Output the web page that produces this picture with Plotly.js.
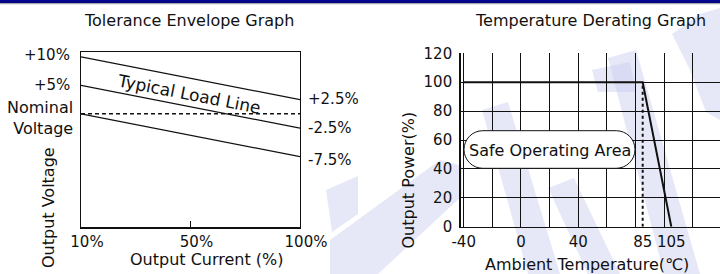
<!DOCTYPE html>
<html>
<head>
<meta charset="utf-8">
<script src="https://cdn.plot.ly/plotly-3.0.1.min.js"></script>
<style>html,body{margin:0;padding:0;background:#fff;}#chart{width:720px;height:274px;}</style>
</head>
<body>
<div id="chart"></div>
<script>
// ---- Data: Tolerance Envelope Graph ----
const currentCategories = ["10%", "50%", "100%"];
const loadEnds = ["10%", "100%"];
const upperLimit = [10, 2.5];      // % output voltage
const typicalLoad = [5, -2.5];
const lowerLimit = [0, -7.5];
const nominalLevel = [0, 0, 0];

// ---- Data: Temperature Derating Graph ----
const ambientTemp = [-40, 85, 105];
const outputPower = [100, 100, 0];
const kneeTemp = [85, 85];
const kneePower = [0, 100];
const tempTickVals = [-40, 0, 40, 85, 105];
const tempTickText = ["-40", "0", "40", "85", "105"];
const powerTicks = [0, 20, 40, 60, 80, 100, 120];

// ---- Layout helpers (pixel -> paper) ----
const W = 720, H = 274;
const px = x => x / W;
const py = y => 1 - y / H;
function poly(pts) {
  return 'M' + pts.map(p => px(p[0]).toFixed(5) + ',' + py(p[1]).toFixed(5)).join(' L') + ' Z';
}
function stadium(l, r, t, b) {
  const rad = (b - t) / 2, k = 0.5523 * rad, m = (t + b) / 2;
  const P = (x, y) => px(x).toFixed(5) + ',' + py(y).toFixed(5);
  return 'M' + P(l + rad, t) + ' L' + P(r - rad, t) +
    ' C' + P(r - rad + k, t) + ' ' + P(r, m - k) + ' ' + P(r, m) +
    ' C' + P(r, m + k) + ' ' + P(r - rad + k, b) + ' ' + P(r - rad, b) +
    ' L' + P(l + rad, b) +
    ' C' + P(l + rad - k, b) + ' ' + P(l, m + k) + ' ' + P(l, m) +
    ' C' + P(l, m - k) + ' ' + P(l + rad - k, t) + ' ' + P(l + rad, t) + ' Z';
}

const black = '#111';
const traces = [
  {x: loadEnds, y: upperLimit, xaxis: 'x', yaxis: 'y', mode: 'lines', line: {color: black, width: 1.2}, hoverinfo: 'skip'},
  {x: loadEnds, y: typicalLoad, xaxis: 'x', yaxis: 'y', mode: 'lines', line: {color: black, width: 1.2}, hoverinfo: 'skip'},
  {x: loadEnds, y: lowerLimit, xaxis: 'x', yaxis: 'y', mode: 'lines', line: {color: black, width: 1.2}, hoverinfo: 'skip'},
  {x: currentCategories, y: nominalLevel, xaxis: 'x', yaxis: 'y', mode: 'lines', line: {color: black, width: 1.5, dash: '4px,3px'}, hoverinfo: 'skip'},
  {x: ambientTemp, y: outputPower, xaxis: 'x2', yaxis: 'y2', mode: 'lines', line: {color: black, width: 2}, hoverinfo: 'skip'},
  {x: kneeTemp, y: kneePower, xaxis: 'x2', yaxis: 'y2', mode: 'lines', line: {color: black, width: 2, dash: 'dot'}, hoverinfo: 'skip'}
];

const wm = 'rgba(200,205,238,0.45)';
const watermark = [
  [[608,58],[636,50],[700,274],[664,274]],
  [[672,34],[700,14],[720,8],[720,120],[706,112],[690,70]],
  [[482,110],[508,102],[560,274],[528,274]],
  [[548,188],[574,178],[620,274],[588,274]],
  [[330,240],[440,160],[462,166],[462,196],[378,274],[330,274]],
  [[326,190],[358,176],[358,214],[332,232]],
  [[592,70],[630,62],[636,92],[598,92]]
].map(p => ({type: 'path', xref: 'paper', yref: 'paper', path: poly(p), fillcolor: wm, line: {width: 0}, layer: 'below'}));

const shapes = watermark.concat([
  {type: 'rect', xref: 'paper', yref: 'paper', x0: 0, x1: 1, y0: py(3), y1: 1, fillcolor: '#06068a', line: {width: 0}},
  {type: 'rect', xref: 'paper', yref: 'paper', x0: 0, x1: 1, y0: py(4.2), y1: py(3), fillcolor: '#a8a8a8', line: {width: 0}},
  {type: 'path', xref: 'paper', yref: 'paper', path: stadium(464, 635, 130.7, 168.3), fillcolor: '#fff', line: {color: black, width: 1}, layer: 'above'}
]);

function ann(text, x, y, opts) {
  return Object.assign({text: text, xref: 'paper', yref: 'paper', x: px(x), y: py(y), showarrow: false,
    xanchor: 'center', yanchor: 'middle', font: {size: 15, color: black}}, opts || {});
}

const annotations = [
  ann('Tolerance Envelope Graph', 189, 20, {font: {size: 16, color: black}}),
  ann('Temperature Derating Graph', 590, 20, {font: {size: 16, color: black}}),
  ann('+10%', 72, 55, {xanchor: 'right'}),
  ann('+5%', 72, 85, {xanchor: 'right'}),
  ann('Nominal<br>Voltage', 75, 118, {xanchor: 'right', align: 'right', font: {size: 16, color: black}}),
  ann('+2.5%', 306, 98.5, {xanchor: 'left'}),
  ann('-2.5%', 306, 127.5, {xanchor: 'left'}),
  ann('-7.5%', 306, 160, {xanchor: 'left'}),
  ann('Output Voltage', 48, 208, {textangle: -90, font: {size: 16, color: black}}),
  ann('Output Current (%)', 206.5, 259, {font: {size: 16, color: black}}),
  ann('Typical Load Line', 188.5, 94, {textangle: 11, font: {size: 17, color: black}}),
  ann('Output Power(%)', 407.5, 180, {textangle: -90, font: {size: 16, color: black}}),
  ann('Ambient Temperature(℃)', 586.5, 264, {font: {size: 16, color: black}}),
  ann('Safe Operating Area', 549.5, 150, {font: {size: 16, color: black}})
];

const layout = {
  width: W, height: H,
  margin: {l: 0, r: 0, t: 0, b: 0},
  paper_bgcolor: '#fff', plot_bgcolor: 'rgba(0,0,0,0)',
  showlegend: false,
  font: {family: 'DejaVu Sans', color: black, size: 15},
  xaxis: {
    domain: [px(81), px(300)], type: 'category', categoryorder: 'array', categoryarray: currentCategories,
    range: [0, 2], showline: true, mirror: true, linecolor: black, linewidth: 1.2,
    ticks: 'inside', ticklen: 6, tickcolor: black, tickwidth: 1, showgrid: false, zeroline: false,
    tickfont: {size: 15, color: black}, ticklabelshift: 6, fixedrange: true
  },
  yaxis: {
    domain: [py(227.3), py(52.3)], range: [-19.9, 10.8], showline: true, mirror: true, linecolor: black,
    linewidth: 1.2, showticklabels: false, ticks: '', showgrid: false, zeroline: false, fixedrange: true
  },
  xaxis2: {
    domain: [px(460.7), 1], range: [-42.1, 139], anchor: 'y2',
    tickmode: 'array', tickvals: tempTickVals, ticktext: tempTickText, ticks: '',
    showgrid: false, zeroline: false, showline: true, linecolor: black, linewidth: 1.5,
    minor: {tick0: -40, dtick: 20, showgrid: true, gridcolor: black, gridwidth: 1, ticks: ''},
    tickfont: {size: 15, color: black}, ticklabelstandoff: 1, fixedrange: true
  },
  yaxis2: {
    domain: [py(226.7), py(53.3)], range: [0, 120], anchor: 'x2',
    tickmode: 'array', tickvals: powerTicks, ticks: '', showgrid: true, gridcolor: black, gridwidth: 1,
    zeroline: false, showline: true, linecolor: black, linewidth: 1.5,
    tickfont: {size: 15, color: black}, ticklabelstandoff: 4, fixedrange: true
  },
  shapes: shapes,
  annotations: annotations
};

Plotly.newPlot('chart', traces, layout, {staticPlot: true, displayModeBar: false});
</script>
</body>
</html>
